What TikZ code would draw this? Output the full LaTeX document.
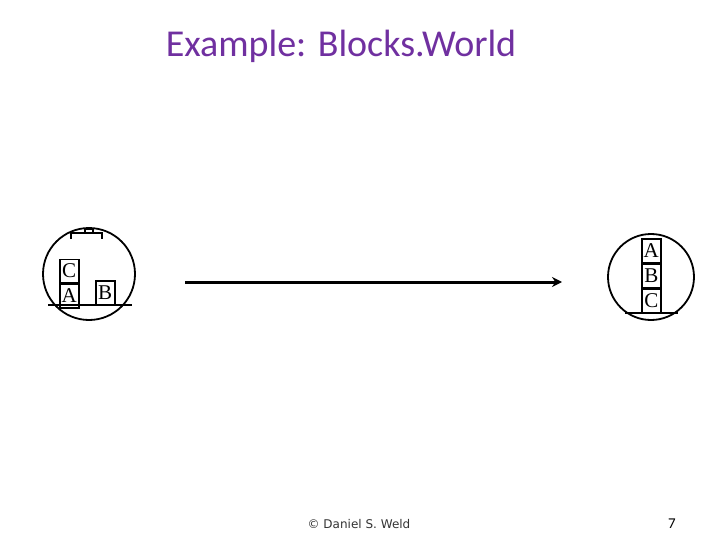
\documentclass[tikz,border=0pt]{standalone}
\usetikzlibrary{arrows.meta}
\usepackage{fontspec}
\setmainfont{Liberation Serif}
\newfontfamily\calib{Carlito}
\newfontfamily\sansf{DejaVu Sans}
\definecolor{ttl}{RGB}{112,48,160}
\begin{document}
\begin{tikzpicture}[x=1pt,y=-1pt,
  blk/.style={draw,line width=1.5pt,minimum width=19pt,minimum height=23.5pt,inner sep=0pt,font=\fontsize{21}{21}\selectfont},
  world/.style={draw,line width=1.8pt,circle,inner sep=0pt},
  gline/.style={line width=1.8pt}]
\useasboundingbox (0,0) rectangle (720,540);
\node[font=\calib\fontsize{38}{40}\selectfont,text=ttl] (title) at (341,46) {Example: Blocks.World};
% left world
\node[world,minimum size=92pt] (w1) at (89,274) {};
\node[blk,anchor=north west] (c) at (59,258.5) {C};
\node[blk,anchor=north] (a) at (c.south) {A};
\node[blk,anchor=south west] (b) at (95,305) {B};
\coordinate (g1l) at (48,305); \coordinate (g1r) at (132,305);
\draw[gline] (g1l) -- (g1r);
\draw[line width=2pt] (71,239) -- (71,233) -- (102,233) -- (102,239);
\draw[line width=1.5pt] (85,233) -- (85,229) -- (93,229) -- (93,233);
% arrow
\coordinate (s) at (185,282); \coordinate (e) at (562,282);
\draw[line width=3pt,-{Stealth[length=10pt,width=10pt]}] (s) -- (e);
% right world
\node[world,minimum size=86pt] (w2) at (651,277) {};
\node[blk,anchor=south west] (cc) at (641,313) {C};
\node[blk,anchor=south] (bb) at (cc.north) {B};
\node[blk,anchor=south] (aa) at (bb.north) {A};
\coordinate (g2l) at (625,313); \coordinate (g2r) at (678,313);
\draw[gline] (g2l) -- (g2r);
% footer
\node[font=\sansf\fontsize{12}{13}\selectfont,text=black!80] (foot) at (359,524) {© Daniel S. Weld};
\node[font=\calib\fontsize{15}{15}\selectfont] (pg) at (672,524) {7};
\end{tikzpicture}
\end{document}
